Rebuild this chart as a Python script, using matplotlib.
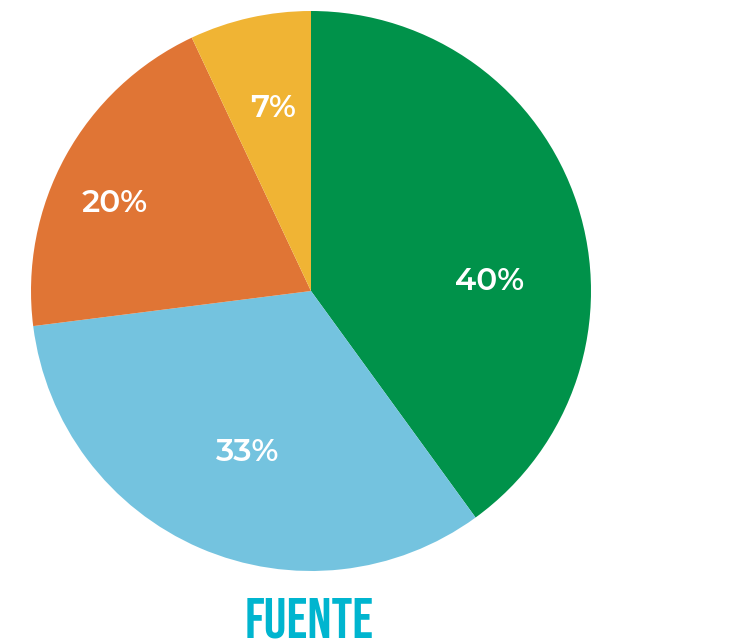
import numpy as np
import matplotlib.pyplot as plt
import matplotlib.transforms as mtransforms

shares = [40, 33, 20, 7]
labels = ['40%', '33%', '20%', '7%']
colors = ['#00924A', '#74C3DF', '#E07535', '#F0B434']
# label placement (radius fraction, angle offset in degrees) per slice
label_r = [0.639, 0.608, 0.772, 0.678]
label_da = [-13.8, 1.5, 3.9, -1.2]

fig = plt.figure(figsize=(7.4, 6.41), dpi=100)
ax = fig.add_axes([31 / 740, 70 / 641, 560 / 740, 560 / 641])

wedges, _ = ax.pie(shares, colors=colors, startangle=90, counterclock=False,
                   radius=1.0, wedgeprops=dict(linewidth=0))

# nudge labels down a little so the digits sit centred
shift = ax.transData + mtransforms.ScaledTranslation(0, -3 / 100, fig.dpi_scale_trans)
for w, lab, r, da in zip(wedges, labels, label_r, label_da):
    mid = np.deg2rad((w.theta1 + w.theta2) / 2 + da)
    ax.text(r * np.cos(mid), r * np.sin(mid), lab, ha='center', va='center',
            color='white', fontsize=22.5, fontweight=600,
            family=['Montserrat Alternates', 'DejaVu Sans'], transform=shift)

ax.set_xlim(-1, 1)
ax.set_ylim(-1, 1)
ax.set_aspect('equal')
ax.axis('off')

fig.text(309 / 740, 4 / 641, 'FUENTE', ha='center', va='baseline',
         color='#00B5CF', fontsize=41, family=['Bebas Neue', 'DejaVu Sans'])

fig.savefig('out.png', dpi=100)
